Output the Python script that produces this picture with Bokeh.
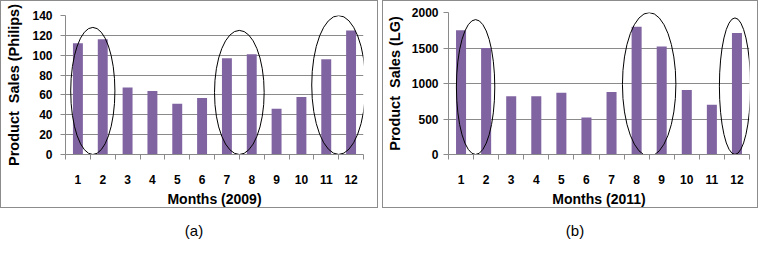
from bokeh.plotting import figure
from bokeh.models import Range1d, FixedTicker, Div
from bokeh.layouts import row, column
from bokeh.embed import file_html
from bokeh.resources import INLINE

# ---- data ----
months = list(range(1, 13))
month_labels = [str(m) for m in months]
philips_2009 = [112, 116, 67.5, 64, 51, 57, 97, 101, 46, 58, 96, 125]
lg_2011 = [1750, 1500, 820, 820, 870, 520, 880, 1800, 1520, 910, 700, 1710]
philips_ticks = [0, 20, 40, 60, 80, 100, 120, 140]
lg_ticks = [0, 500, 1000, 1500, 2000]

# highlighted month groups (ellipses): centre month, centre value, span in months, span in value
philips_hl_x = [1.6, 7.5, 11.5]
philips_hl_y = [64, 62.5, 70]
philips_hl_w = [1.78, 2.0, 2.17]
philips_hl_h = [128, 125, 140]
lg_hl_x = [1.58, 8.5, 11.92]
lg_hl_y = [950, 987, 962]
lg_hl_w = [1.53, 2.13, 1.24]
lg_hl_h = [1900, 2025, 1923]

BAR = "#8064A2"
GRID = "#8a8a8a"
FONT = "Liberation Sans"
NB = "\u00a0"


def panel(values, yticks, ylabel, xlabel, hx, hy, hw, hh, w, h,
          bl, br, bt, bb, ystand, ytitle_stand):
    p = figure(width=w, height=h, x_range=Range1d(0.5, 12.5),
               y_range=Range1d(yticks[0], yticks[-1]),
               output_backend="svg", toolbar_location=None,
               min_border_left=bl, min_border_right=br,
               min_border_top=bt, min_border_bottom=bb)
    p.vbar(x=months, top=values, width=0.4, fill_color=BAR, line_color=None)
    p.ellipse(x=hx, y=hy, width=hw, height=hh, fill_color=None,
              line_color="black", line_width=1)
    p.outline_line_color = None
    p.xgrid.grid_line_color = None
    p.ygrid.grid_line_color = GRID
    p.ygrid.ticker = FixedTicker(ticks=yticks)

    xa = p.xaxis[0]
    xa.ticker = FixedTicker(ticks=months, minor_ticks=[m - 0.5 for m in months] + [12.5])
    xa.major_label_overrides = {m: s for m, s in zip(months, month_labels)}
    xa.axis_line_color = GRID
    xa.major_tick_line_color = None
    xa.major_tick_out = 0
    xa.major_tick_in = 0
    xa.minor_tick_line_color = GRID
    xa.minor_tick_out = 5
    xa.minor_tick_in = 0
    xa.major_label_standoff = 15
    xa.major_label_text_font = FONT
    xa.major_label_text_font_style = "bold"
    xa.major_label_text_font_size = "12px"
    xa.major_label_text_color = "black"
    xa.axis_label = xlabel
    xa.axis_label_text_font = FONT
    xa.axis_label_text_font_style = "bold"
    xa.axis_label_text_font_size = "14px"
    xa.axis_label_text_color = "black"
    xa.axis_label_standoff = 4

    ya = p.yaxis[0]
    ya.ticker = FixedTicker(ticks=yticks)
    ya.axis_line_color = GRID
    ya.major_tick_line_color = GRID
    ya.major_tick_out = 5
    ya.major_tick_in = 0
    ya.minor_tick_line_color = None
    ya.major_label_standoff = ystand
    ya.major_label_text_font = FONT
    ya.major_label_text_font_style = "bold"
    ya.major_label_text_font_size = "12px"
    ya.major_label_text_color = "black"
    ya.axis_label = ylabel
    ya.axis_label_text_font = FONT
    ya.axis_label_text_font_style = "bold"
    ya.axis_label_text_font_size = "14.5px"
    ya.axis_label_text_color = "black"
    ya.axis_label_standoff = ytitle_stand

    p.styles = {"border": "1px solid #8c8c8c"}
    return p


p1 = panel(philips_2009, philips_ticks, "Product" + NB + NB + "Sales (Philips)", "Months (2009)",
           philips_hl_x, philips_hl_y, philips_hl_w, philips_hl_h,
           378, 208, 64, 16, 14, 55, 8, 7)
p2 = panel(lg_2011, lg_ticks, "Product" + NB + NB + "Sales (LG)", "Months (2011)",
           lg_hl_x, lg_hl_y, lg_hl_w, lg_hl_h,
           376, 208, 65, 10, 11, 50, 5, 6)

cap_style = {"text-align": "center", "font-size": "15px", "font-family": FONT,
             "color": "black", "width": "100%"}
d1 = Div(text="(a)", width=380, height=20, styles=cap_style)
d2 = Div(text="(b)", width=378, height=20, styles=cap_style)

layout = row(column(p1, d1, spacing=7), column(p2, d2, spacing=7), spacing=4)

open("out.html", "w").write(file_html(layout, INLINE))
